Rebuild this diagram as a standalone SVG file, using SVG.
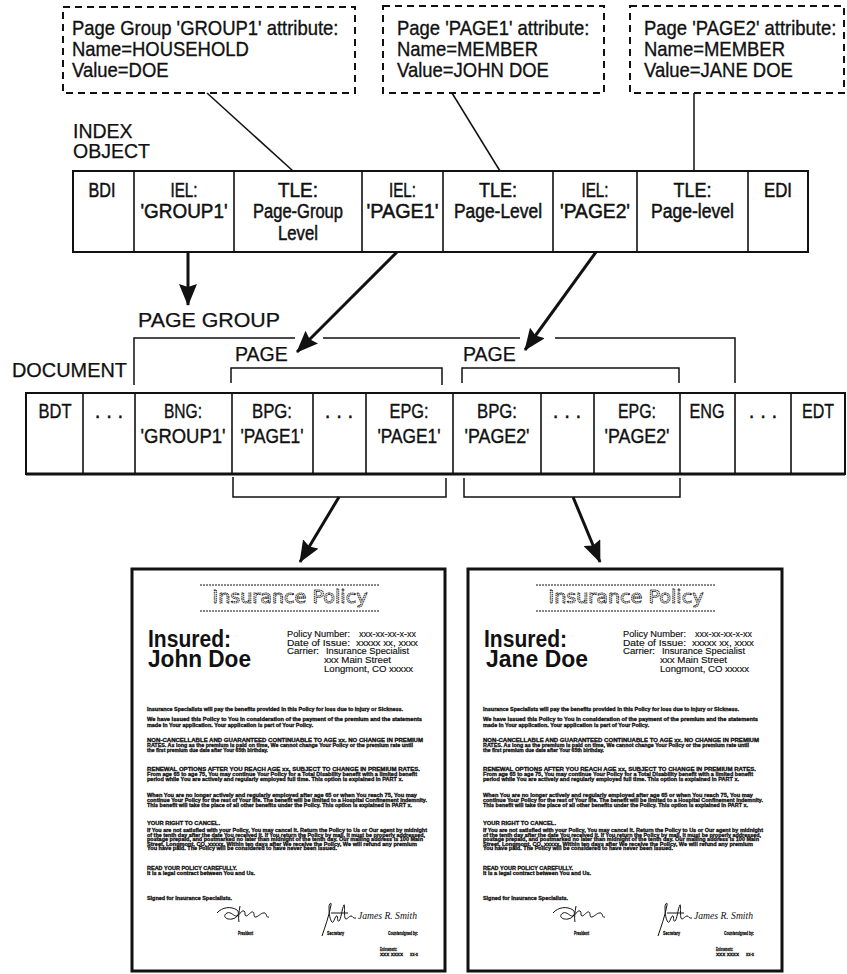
<svg xmlns="http://www.w3.org/2000/svg" width="847" height="974" viewBox="0 0 847 974">
<defs>
<style>
.t{font-family:"Liberation Sans",Arial,sans-serif;fill:#111;}
.lbl{font-size:19.5px;stroke:#111;stroke-width:0.25;}
.cell{font-size:20px;text-anchor:middle;stroke:#111;stroke-width:0.5;}
.dcell{font-size:20.5px;text-anchor:middle;stroke:#111;stroke-width:0.4;}
.attr{font-size:20.5px;stroke:#111;stroke-width:0.35;}
.dash{fill:#fff;stroke:#111;stroke-width:2;stroke-dasharray:7,5;}
.tbl{fill:#fff;stroke:#111;stroke-width:2;}
.dv{stroke:#111;stroke-width:1.6;}
.thin{fill:none;stroke:#111;stroke-width:1.5;}
.arrow{fill:none;stroke:#111;stroke-width:3;marker-end:url(#ah);}
.doc{fill:#fff;stroke:#111;stroke-width:3;}
.b{font-family:"Liberation Sans",Arial,sans-serif;font-weight:bold;font-size:4.9px;fill:#111;stroke:#111;stroke-width:0.28;}
.pi{font-family:"Liberation Sans",Arial,sans-serif;font-size:8.5px;fill:#111;stroke:#111;stroke-width:0.15;}
.ttl{font-family:"DejaVu Sans","Liberation Sans",sans-serif;font-size:18px;fill:#fff;stroke:#111;stroke-width:0.9;stroke-dasharray:1.3,0.6;text-anchor:middle;}
.hd{fill:none;stroke:#111;stroke-width:1;stroke-dasharray:2,1;}
.ins{font-family:"Liberation Sans",Arial,sans-serif;font-weight:bold;font-size:23px;fill:#111;}
.sig{fill:none;stroke:#111;stroke-width:1;}
</style>
<marker id="ah" markerUnits="userSpaceOnUse" markerWidth="22" markerHeight="18" viewBox="0 0 22 18" refX="21" refY="9" orient="auto"><path d="M0,0 L22,9 L0,18 L3,9 z" fill="#111"/></marker>
<g id="policyBody">
<path class="hd" d="M200,585 H380 M200,611 H380"/>
<text class="ttl" x="290" y="603" textLength="155" lengthAdjust="spacingAndGlyphs">Insurance Policy</text>
<text class="ins" x="148" y="647" textLength="83" lengthAdjust="spacingAndGlyphs">Insured:</text>
<text class="pi" x="287" y="637" textLength="63" lengthAdjust="spacingAndGlyphs">Policy Number:</text>
<text class="pi" x="359" y="637" textLength="57" lengthAdjust="spacingAndGlyphs">xxx-xx-xx-x-xx</text>
<text class="pi" x="287" y="645.5" textLength="63" lengthAdjust="spacingAndGlyphs">Date of Issue:</text>
<text class="pi" x="356" y="645.5" textLength="62" lengthAdjust="spacingAndGlyphs">xxxxx xx, xxxx</text>
<text class="pi" x="287" y="654" textLength="32" lengthAdjust="spacingAndGlyphs">Carrier:</text>
<text class="pi" x="326" y="654" textLength="83" lengthAdjust="spacingAndGlyphs">Insurance Specialist</text>
<text class="pi" x="324" y="663" textLength="67" lengthAdjust="spacingAndGlyphs">xxx Main Street</text>
<text class="pi" x="324" y="672" textLength="89" lengthAdjust="spacingAndGlyphs">Longmont, CO xxxxx</text>
<text class="b" x="147" y="711" textLength="256" lengthAdjust="spacingAndGlyphs">Insurance Specialists will pay the benefits provided in this Policy for loss due to injury or Sickness.</text>
<text class="b" x="147" y="721" textLength="275" lengthAdjust="spacingAndGlyphs">We have issued this Policy to You in consideration of the payment of the premium and the statements</text>
<text class="b" x="147" y="726.5" textLength="166" lengthAdjust="spacingAndGlyphs">made in Your application.  Your application is part of Your Policy.</text>
<text class="b" x="147" y="742" textLength="276" lengthAdjust="spacingAndGlyphs">NON-CANCELLABLE AND GUARANTEED CONTINUABLE TO AGE xx.  NO CHANGE IN PREMIUM</text>
<text class="b" x="147" y="747" textLength="266" lengthAdjust="spacingAndGlyphs">RATES.  As long as the premium is paid on time, We cannot change Your Policy or the premium rate until</text>
<text class="b" x="147" y="752" textLength="121" lengthAdjust="spacingAndGlyphs">the first premium due date after Your 65th birthday.</text>
<text class="b" x="147" y="771" textLength="273" lengthAdjust="spacingAndGlyphs">RENEWAL OPTIONS AFTER YOU REACH AGE xx,  SUBJECT TO CHANGE IN PREMIUM RATES.</text>
<text class="b" x="147" y="776" textLength="270" lengthAdjust="spacingAndGlyphs">From age 65 to age 75, You may continue Your Policy for a Total Disability benefit with a limited benefit</text>
<text class="b" x="147" y="781" textLength="256" lengthAdjust="spacingAndGlyphs">period while You are actively and regularly employed full time.  This option is explained in PART x.</text>
<text class="b" x="147" y="797" textLength="270" lengthAdjust="spacingAndGlyphs">When You are no longer actively and regularly employed after age 65 or when You reach 75, You may</text>
<text class="b" x="147" y="802" textLength="280" lengthAdjust="spacingAndGlyphs">continue Your Policy for the rest of Your life.  The benefit will be limited to a Hospital Confinement Indemnity.</text>
<text class="b" x="147" y="807" textLength="265" lengthAdjust="spacingAndGlyphs">This benefit will take the place of all other benefits under the Policy.  This option is explained in PART x.</text>
<text class="b" x="147" y="825" textLength="73" lengthAdjust="spacingAndGlyphs">YOUR RIGHT TO CANCEL.</text>
<text class="b" x="147" y="832" textLength="280" lengthAdjust="spacingAndGlyphs">If You are not satisfied with your Policy, You may cancel it.  Return the Policy to Us or Our agent by midnight</text>
<text class="b" x="147" y="836.5" textLength="278" lengthAdjust="spacingAndGlyphs">of the tenth day after the date You received it.  If You return the Policy by mail, it must be properly addressed,</text>
<text class="b" x="147" y="841" textLength="276" lengthAdjust="spacingAndGlyphs">postage prepaid, and postmarked no later than midnight of the tenth day.  Our mailing address is 100 Main</text>
<text class="b" x="147" y="845.5" textLength="270" lengthAdjust="spacingAndGlyphs">Street, Longmont, CO, xxxxx.  Within ten days after We receive the Policy, We will refund any premium</text>
<text class="b" x="147" y="850" textLength="190" lengthAdjust="spacingAndGlyphs">You have paid.  The Policy will be considered to have never been issued.</text>
<text class="b" x="147" y="870" textLength="90" lengthAdjust="spacingAndGlyphs">READ YOUR POLICY CAREFULLY.</text>
<text class="b" x="147" y="875" textLength="108" lengthAdjust="spacingAndGlyphs">It is a legal contract between You and Us.</text>
<text class="b" x="147" y="900" textLength="85" lengthAdjust="spacingAndGlyphs">Signed for Insurance Specialists.</text>
<path class="sig" d="M217,913 c5,-6 14,-7 20,-3 c3,2 1,8 -5,9 c-6,1 -10,-3 -5,-6 c4,-2 7,4 10,3 c3,-1 4,-6 7,-5 c2,1 0,5 2,5 c2,0 5,-5 7,-4 c2,1 0,6 3,5 c3,-1 6,-5 9,-4 c2,1 1,5 4,4 M240,906 c-1,6 -2,12 -1,16"/>
<text class="b" x="238" y="935" textLength="15" lengthAdjust="spacingAndGlyphs">President</text>
<path class="sig" d="M322,936 c3,-9 7,-20 9,-31 c1,-3 -2,-2 -2,2 c0,7 1,13 3,15 c2,2 3,-7 5,-6 c1,1 0,6 2,5 c2,-1 3,-13 5,-16 c1,-2 0,9 1,13 c1,3 4,-2 6,-2 c2,0 2,3 5,2 M331,913 h17"/>
<text class="b" x="327" y="935" textLength="17" lengthAdjust="spacingAndGlyphs">Secretary</text>
<text x="358" y="919" font-family="Liberation Serif, serif" font-style="italic" font-size="10" fill="#111" textLength="59" lengthAdjust="spacingAndGlyphs">James R. Smith</text>
<text class="b" x="388" y="935" textLength="30" lengthAdjust="spacingAndGlyphs">Countersigned by:</text>
<text class="b" x="380" y="951" font-size="3.6" textLength="17" lengthAdjust="spacingAndGlyphs">Endorsements:</text>
<text class="b" x="380" y="955.5" font-size="3.6" textLength="23" lengthAdjust="spacingAndGlyphs">xxx  xxxx</text>
<text class="b" x="410" y="955.5" font-size="3.6" textLength="8" lengthAdjust="spacingAndGlyphs">xx-x</text>
</g>
</defs>
<rect width="847" height="974" fill="#fff"/>

<g id="attr-group1">
<rect class="dash" x="63" y="7" width="292" height="86"/>
<g transform="translate(72,0) scale(0.9,1)">
<text class="t attr" x="0" y="35">Page Group 'GROUP1' attribute:</text>
<text class="t attr" x="0" y="56">Name=HOUSEHOLD</text>
<text class="t attr" x="0" y="77">Value=DOE</text>
</g>
</g>
<g id="attr-page1">
<rect class="dash" x="383" y="6" width="221" height="87"/>
<g transform="translate(397,0) scale(0.9,1)">
<text class="t attr" x="0" y="35">Page 'PAGE1' attribute:</text>
<text class="t attr" x="0" y="56">Name=MEMBER</text>
<text class="t attr" x="0" y="77">Value=JOHN DOE</text>
</g>
</g>
<g id="attr-page2">
<rect class="dash" x="630" y="6" width="214" height="87"/>
<g transform="translate(644,0) scale(0.9,1)">
<text class="t attr" x="0" y="35">Page 'PAGE2' attribute:</text>
<text class="t attr" x="0" y="56">Name=MEMBER</text>
<text class="t attr" x="0" y="77">Value=JANE DOE</text>
</g>
</g>

<g id="label-index">
<text class="t lbl" x="73" y="138">INDEX</text>
<text class="t lbl" x="73" y="158">OBJECT</text>
</g>

<g id="index-object">
<rect class="tbl" x="73" y="171" width="735" height="81"/>
<path class="dv" d="M134,171V252 M234,171V252 M362,171V252 M443,171V252 M553,171V252 M637,171V252 M748,171V252"/>
<text class="t cell" x="102" y="197" textLength="27" lengthAdjust="spacingAndGlyphs">BDI</text>
<text class="t cell" x="184" y="197" textLength="27" lengthAdjust="spacingAndGlyphs">IEL:</text>
<text class="t cell" x="184" y="218" textLength="87" lengthAdjust="spacingAndGlyphs">'GROUP1'</text>
<text class="t cell" x="298" y="197" textLength="40" lengthAdjust="spacingAndGlyphs">TLE:</text>
<text class="t cell" x="298" y="218" textLength="90" lengthAdjust="spacingAndGlyphs">Page-Group</text>
<text class="t cell" x="298" y="240" textLength="40" lengthAdjust="spacingAndGlyphs">Level</text>
<text class="t cell" x="402.5" y="197" textLength="27" lengthAdjust="spacingAndGlyphs">IEL:</text>
<text class="t cell" x="402.5" y="218" textLength="72" lengthAdjust="spacingAndGlyphs">'PAGE1'</text>
<text class="t cell" x="498" y="197" textLength="38" lengthAdjust="spacingAndGlyphs">TLE:</text>
<text class="t cell" x="498" y="218" textLength="88" lengthAdjust="spacingAndGlyphs">Page-Level</text>
<text class="t cell" x="595" y="197" textLength="27" lengthAdjust="spacingAndGlyphs">IEL:</text>
<text class="t cell" x="595" y="218" textLength="70" lengthAdjust="spacingAndGlyphs">'PAGE2'</text>
<text class="t cell" x="692.5" y="197" textLength="38" lengthAdjust="spacingAndGlyphs">TLE:</text>
<text class="t cell" x="692.5" y="218" textLength="83" lengthAdjust="spacingAndGlyphs">Page-level</text>
<text class="t cell" x="778" y="197" textLength="28" lengthAdjust="spacingAndGlyphs">EDI</text>
</g>

<g id="labels-doc">
<text class="t lbl" x="138" y="327" textLength="142" lengthAdjust="spacingAndGlyphs">PAGE  GROUP</text>
<text class="t lbl" x="12" y="377" textLength="115" lengthAdjust="spacingAndGlyphs">DOCUMENT</text>
<text class="t lbl" x="235" y="361">PAGE</text>
<text class="t lbl" x="463" y="361">PAGE</text>
</g>

<g id="document">
<rect class="tbl" x="26" y="393" width="819" height="81"/>
<path d="M26,474H845" stroke="#111" stroke-width="3"/>
<path class="dv" d="M83,393V474 M135,393V474 M232,393V474 M313,393V474 M366,393V474 M453,393V474 M541,393V474 M594,393V474 M680,393V474 M735,393V474 M791,393V474"/>
<text class="t dcell" x="55" y="418" textLength="33" lengthAdjust="spacingAndGlyphs">BDT</text>
<text class="t dcell" x="109" y="418">. . .</text>
<text class="t dcell" x="183" y="418" textLength="38" lengthAdjust="spacingAndGlyphs">BNG:</text>
<text class="t dcell" x="183" y="443" textLength="85" lengthAdjust="spacingAndGlyphs">'GROUP1'</text>
<text class="t dcell" x="272" y="418" textLength="40" lengthAdjust="spacingAndGlyphs">BPG:</text>
<text class="t dcell" x="272" y="443" textLength="63" lengthAdjust="spacingAndGlyphs">'PAGE1'</text>
<text class="t dcell" x="339" y="418">. . .</text>
<text class="t dcell" x="409" y="418" textLength="39" lengthAdjust="spacingAndGlyphs">EPG:</text>
<text class="t dcell" x="409" y="443" textLength="63" lengthAdjust="spacingAndGlyphs">'PAGE1'</text>
<text class="t dcell" x="497" y="418" textLength="40" lengthAdjust="spacingAndGlyphs">BPG:</text>
<text class="t dcell" x="497" y="443" textLength="65" lengthAdjust="spacingAndGlyphs">'PAGE2'</text>
<text class="t dcell" x="567" y="418">. . .</text>
<text class="t dcell" x="637" y="418" textLength="38" lengthAdjust="spacingAndGlyphs">EPG:</text>
<text class="t dcell" x="637" y="443" textLength="65" lengthAdjust="spacingAndGlyphs">'PAGE2'</text>
<text class="t dcell" x="707" y="418" textLength="35" lengthAdjust="spacingAndGlyphs">ENG</text>
<text class="t dcell" x="763" y="418">. . .</text>
<text class="t dcell" x="818" y="418" textLength="32" lengthAdjust="spacingAndGlyphs">EDT</text>
</g>

<g id="policy-john">
<rect class="doc" x="132" y="569" width="313" height="402"/>
<use href="#policyBody"/>
<text class="ins" x="148" y="667" textLength="103" lengthAdjust="spacingAndGlyphs">John Doe</text>
</g>
<g id="policy-jane">
<rect class="doc" x="468" y="569" width="314" height="402"/>
<use href="#policyBody" x="336"/>
<text class="ins" x="486" y="667" textLength="102" lengthAdjust="spacingAndGlyphs">Jane Doe</text>
</g>

<g id="connectors">
<path class="thin" d="M207,93 L293,171"/>
<path class="thin" d="M452,93 L500,171"/>
<path class="thin" d="M694,93 V171"/>
<path class="thin" d="M134,385 V338 H295 M323,338 H520 M555,338 H735 V383"/>
<path class="thin" d="M231,383 V368 H442 V385"/>
<path class="thin" d="M462,383 V368 H679 V383"/>
<path class="thin" d="M233,477 V497 H446 V478"/>
<path class="thin" d="M464,478 V497 H680 V478"/>
<path class="arrow" d="M188,252 V305"/>
<path class="arrow" d="M397,252 L297,352"/>
<path class="arrow" d="M596,252 L525,350"/>
<path class="arrow" d="M339,497 L300,562"/>
<path class="arrow" d="M573,497 L600,562"/>
</g>
</svg>
